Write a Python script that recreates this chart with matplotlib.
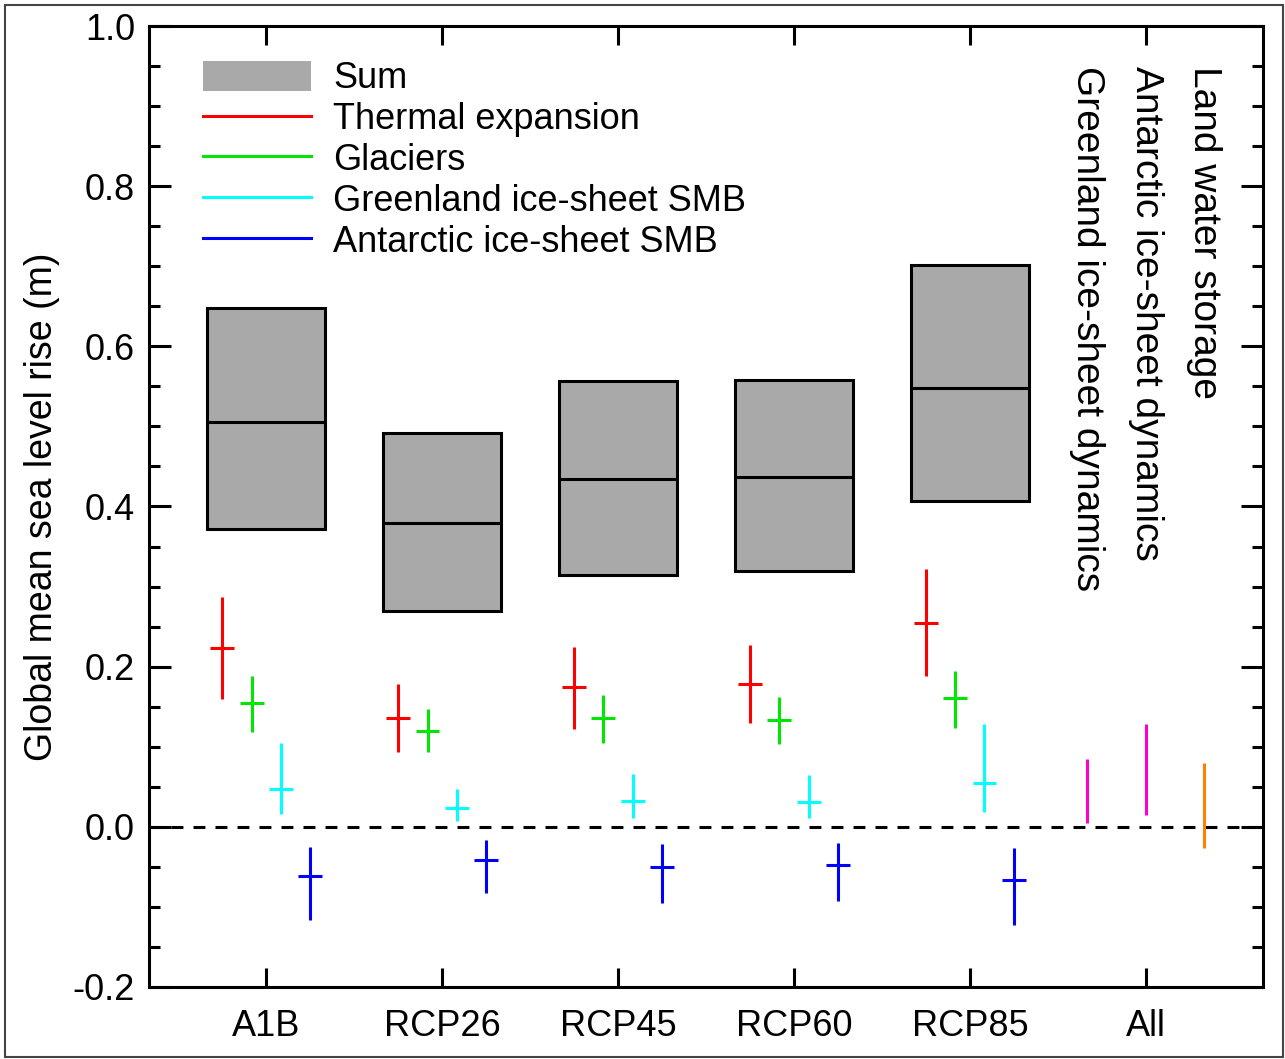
import numpy as np
import matplotlib
matplotlib.use('Agg')
import matplotlib.pyplot as plt
from matplotlib.ticker import MultipleLocator
from matplotlib.patches import Patch, Rectangle
from matplotlib.lines import Line2D

plt.rcParams['font.family'] = ['Liberation Sans', 'DejaVu Sans']
plt.rcParams['axes.unicode_minus'] = False

scenarios = ['A1B', 'RCP26', 'RCP45', 'RCP60', 'RCP85']
all_label = 'All'

# Sum: 5-95% range and median
sum_low = [0.372, 0.269, 0.315, 0.320, 0.407]
sum_mid = [0.506, 0.380, 0.434, 0.437, 0.548]
sum_high = [0.648, 0.492, 0.557, 0.558, 0.702]

# contributions: central value, lower, upper
thermal_mid = [0.223, 0.136, 0.174, 0.178, 0.255]
thermal_lo = [0.160, 0.093, 0.122, 0.130, 0.188]
thermal_hi = [0.287, 0.178, 0.224, 0.227, 0.322]

glacier_mid = [0.155, 0.120, 0.136, 0.133, 0.161]
glacier_lo = [0.118, 0.094, 0.105, 0.103, 0.124]
glacier_hi = [0.188, 0.147, 0.164, 0.162, 0.194]

green_mid = [0.047, 0.023, 0.032, 0.031, 0.055]
green_lo = [0.016, 0.007, 0.011, 0.011, 0.019]
green_hi = [0.105, 0.047, 0.066, 0.065, 0.128]

ant_mid = [-0.062, -0.041, -0.050, -0.048, -0.066]
ant_lo = [-0.116, -0.082, -0.095, -0.092, -0.123]
ant_hi = [-0.025, -0.016, -0.021, -0.020, -0.027]

# scenario-independent terms (All)
extra_labels = ['Greenland ice-sheet dynamics', 'Antarctic ice-sheet dynamics', 'Land water storage']
extra_lo = [0.005, 0.015, -0.026]
extra_hi = [0.085, 0.128, 0.080]
extra_colors = ['#ff00cc', '#ff00cc', '#ff8000']

colors = ['#ff0000', '#00e600', '#00ffff', '#0000ff']
comp_labels = ['Thermal expansion', 'Glaciers', 'Greenland ice-sheet SMB', 'Antarctic ice-sheet SMB']
offsets = [-0.25, -1/12, 1/12, 0.25]

fs = 26
lw = 2.2

fig = plt.figure(figsize=(12.85, 10.59), dpi=100)
ax = fig.add_axes([149/1285, 72/1059, 1114/1285, 961/1059])

x = np.arange(1, len(scenarios) + 1)
box_w = 0.67

ax.axhline(0, color='black', lw=lw, linestyle=(0, (3.9, 3.3)), zorder=1)

ax.bar(x, np.array(sum_high) - np.array(sum_low), bottom=sum_low, width=box_w,
       color='#a9a9a9', edgecolor='black', linewidth=lw, zorder=2)
ax.hlines(sum_mid, x - box_w/2, x + box_w/2, color='black', lw=lw, zorder=3)

series = [(thermal_mid, thermal_lo, thermal_hi),
          (glacier_mid, glacier_lo, glacier_hi),
          (green_mid, green_lo, green_hi),
          (ant_mid, ant_lo, ant_hi)]
cw = 0.068
for (mid, lo, hi), c, off in zip(series, colors, offsets):
    xs = x + off
    ax.vlines(xs, lo, hi, color=c, lw=lw, zorder=3)
    ax.hlines(mid, xs - cw, xs + cw, color=c, lw=lw, zorder=3)

x_all = len(scenarios) + 1
xe = x_all + np.array([-1/3, 0, 1/3])
ax.vlines(xe, extra_lo, extra_hi, colors=extra_colors, lw=lw, zorder=3)
for xi, t in zip(xe, extra_labels):
    ax.text(xi, 0.95, t, rotation=270, ha='center', va='top', fontsize=28)

ax.set_xlim(1/3, x_all + 2/3)
ax.set_ylim(-0.2, 1.0)
ax.set_xticks(list(x) + [x_all])
ax.set_xticklabels(scenarios + [all_label])
ax.yaxis.set_major_locator(MultipleLocator(0.2))
ax.yaxis.set_minor_locator(MultipleLocator(0.05))
ax.yaxis.set_major_formatter(matplotlib.ticker.FormatStrFormatter('%.1f'))
ax.tick_params(axis='both', which='major', direction='in', width=lw, labelsize=fs)
ax.tick_params(axis='y', which='major', length=16, right=True, pad=10)
ax.tick_params(axis='y', which='minor', direction='in', length=8, width=lw, right=True)
ax.tick_params(axis='x', which='major', length=14, top=True, pad=16)
for s in ax.spines.values():
    s.set_linewidth(lw)

ax.set_ylabel('Global mean sea level rise (m)', fontsize=27, labelpad=9)

handles = [Patch(facecolor='#a9a9a9', edgecolor='none')] + \
          [Line2D([], [], color=c, lw=lw) for c in colors]
ax.legend(handles, ['Sum'] + comp_labels, loc='upper left', bbox_to_anchor=(54/1114, 1 - 35/961),
          frameon=False, fontsize=fs, handlelength=3.0, handleheight=0.9,
          handletextpad=0.6, labelspacing=0.15, borderpad=0, borderaxespad=0)

fig.patches.append(Rectangle((5/1285, 2/1059), 1278/1285, 1052/1059, transform=fig.transFigure,
                             fill=False, edgecolor='#444444', lw=1.5))

fig.savefig('out.png', dpi=100)
